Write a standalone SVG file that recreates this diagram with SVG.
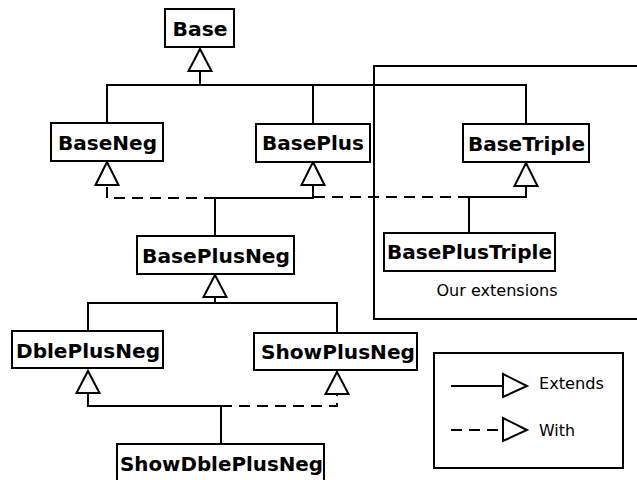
<svg xmlns="http://www.w3.org/2000/svg" width="637" height="480" viewBox="0 0 637 480">
<style>
.box{fill:#fff;stroke:#000;stroke-width:2}
.lbl{font-family:"DejaVu Sans",sans-serif;font-weight:bold;font-size:19px;text-anchor:middle;fill:#000}
.txt{font-family:"DejaVu Sans",sans-serif;font-size:15px;fill:#000}
.ln{fill:none;stroke:#000;stroke-width:2}
.dash{fill:none;stroke:#000;stroke-width:2;stroke-dasharray:11,7}
.arr{fill:#fff;stroke:#000;stroke-width:2;stroke-linejoin:miter}
</style>
<rect width="637" height="480" fill="#fff"/>
<g id="extensions-frame">
<rect x="374" y="66" width="270" height="253" class="box" fill="none"/>
<text x="497" y="296" class="txt" text-anchor="middle" textLength="121" lengthAdjust="spacingAndGlyphs">Our extensions</text>
</g>
<g id="connectors">
<path class="ln" d="M107,123 V85 H526 V124 M313,124 V85 M200,85 V71"/>
<path class="ln" d="M215,236 V198 H313 V185"/>
<path class="dash" d="M215,198 H107 V185"/>
<path class="ln" d="M469,233 V197 H526 V186"/>
<path class="dash" d="M469,197 H313"/>
<path class="ln" d="M88,331 V303 H337 V333 M215,303 V297"/>
<path class="ln" d="M221,444 V406 H88 V393"/>
<path class="dash" d="M221,406 H337 V394"/>
<polygon class="arr" points="200,49 211.5,71 188.5,71"/>
<polygon class="arr" points="107,162 118.5,185 95.5,185"/>
<polygon class="arr" points="313,162 324.5,185 301.5,185"/>
<polygon class="arr" points="526,163 537.5,186 514.5,186"/>
<polygon class="arr" points="215,275 226.5,297 203.5,297"/>
<polygon class="arr" points="88,371 99.5,393 76.5,393"/>
<polygon class="arr" points="337,372 348.5,394 325.5,394"/>
</g>
<g id="Base"><rect x="165" y="9" width="69" height="38" class="box"/><text x="200" y="36" class="lbl" textLength="55" lengthAdjust="spacingAndGlyphs">Base</text></g>
<g id="BaseNeg"><rect x="51" y="123" width="112" height="38" class="box"/><text x="107.5" y="150" class="lbl" textLength="99" lengthAdjust="spacingAndGlyphs">BaseNeg</text></g>
<g id="BasePlus"><rect x="256" y="124" width="114" height="38" class="box"/><text x="313" y="150" class="lbl" textLength="102" lengthAdjust="spacingAndGlyphs">BasePlus</text></g>
<g id="BaseTriple"><rect x="463" y="124" width="126" height="38" class="box"/><text x="526.5" y="151" class="lbl" textLength="117" lengthAdjust="spacingAndGlyphs">BaseTriple</text></g>
<g id="BasePlusTriple"><rect x="384" y="233" width="171" height="38" class="box"/><text x="469.5" y="259" class="lbl" textLength="165" lengthAdjust="spacingAndGlyphs">BasePlusTriple</text></g>
<g id="BasePlusNeg"><rect x="137" y="236" width="157" height="38" class="box"/><text x="216" y="263" class="lbl" textLength="148" lengthAdjust="spacingAndGlyphs">BasePlusNeg</text></g>
<g id="DblePlusNeg"><rect x="12" y="331" width="151" height="37" class="box"/><text x="88" y="358" class="lbl" textLength="144" lengthAdjust="spacingAndGlyphs">DblePlusNeg</text></g>
<g id="ShowPlusNeg"><rect x="254" y="333" width="163" height="37" class="box"/><text x="338" y="359" class="lbl" textLength="154" lengthAdjust="spacingAndGlyphs">ShowPlusNeg</text></g>
<g id="ShowDblePlusNeg"><rect x="117" y="444" width="207" height="40" class="box"/><text x="221.5" y="471" class="lbl" textLength="203" lengthAdjust="spacingAndGlyphs">ShowDblePlusNeg</text></g>
<g id="legend">
<rect x="434" y="353" width="189" height="115" class="box"/>
<path class="ln" d="M451,386 H503"/>
<polygon class="arr" points="503,374 527,386 503,397"/>
<text x="539" y="389" class="txt" textLength="65" lengthAdjust="spacingAndGlyphs">Extends</text>
<path class="dash" d="M451,430 H503"/>
<polygon class="arr" points="503,418 527,430 503,441"/>
<text x="539" y="436" class="txt" textLength="36" lengthAdjust="spacingAndGlyphs">With</text>
</g>
</svg>
